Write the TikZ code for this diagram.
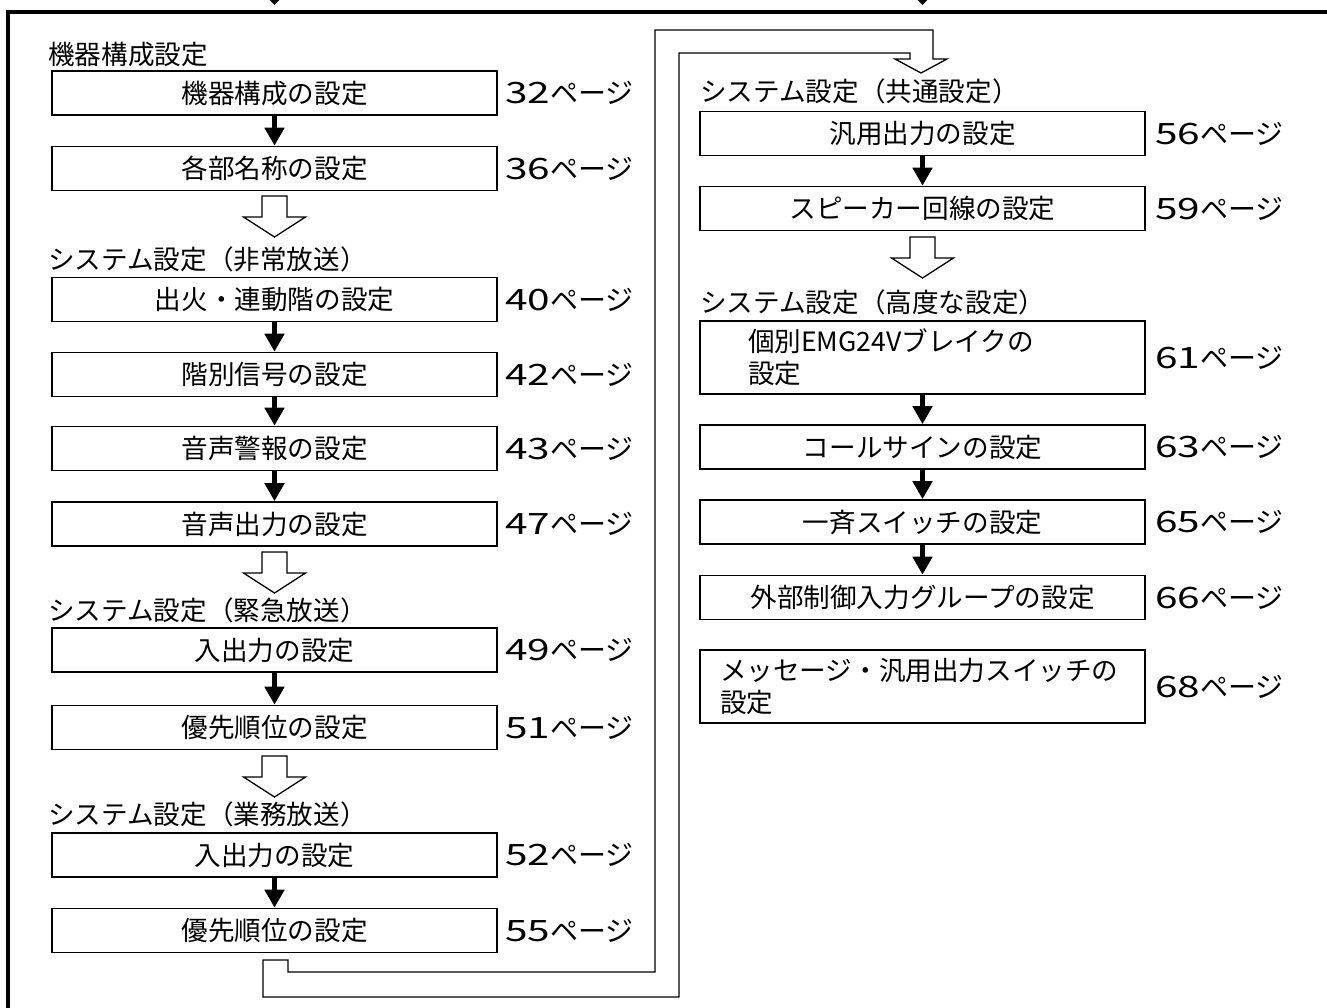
\documentclass[tikz,border=0pt]{standalone}
\usepackage{fontspec}
\setmainfont{Noto Sans CJK JP}
\usetikzlibrary{arrows.meta}
\newcommand\pgnum[1]{\scalebox{1.45}[1.05]{#1}}
\tikzset{
  hollowdown/.pic={\draw[line width=1.3pt, fill=white] (-12.5,0) -- (12.5,0) -- (12.5,21) -- (31,21) -- (0,41) -- (-31,21) -- (-12.5,21) -- cycle;},
}
\begin{document}
\begin{tikzpicture}[x=1pt,y=-1pt,
  every node/.style={font=\fontsize{26.6}{32}\selectfont, inner sep=0pt},
  box/.style={draw, line width=1.6pt, minimum width=445pt, minimum height=44pt, align=center},
  ttl/.style={anchor=west},
  pg/.style={anchor=west, font=\fontsize{28}{32}\selectfont},
  flow/.style={line width=5pt, -{Triangle[width=19pt,length=18pt]}},
  pipe/.style={line width=1.3pt, fill=white}
]
\useasboundingbox (0,0) rectangle (1327,1007);
\clip (0,0) rectangle (1327,1007);
% outer frame and incoming arrowheads
\draw[line width=4pt] (8,1020) -- (8,12) -- (1340,12);
\fill (262,-8) -- (287,-8) -- (274.5,5) -- cycle;
\fill (910,-8) -- (935,-8) -- (922.5,5) -- cycle;

% left column
\node[ttl] (l1) at (48,54) {機器構成設定};
\node[box] (b1) at (274.5,93) {機器構成の設定};
\node[box] (b2) at (274.5,168.5) {各部名称の設定};
\pic at (274.5,196) {hollowdown};
\node[ttl] (l2) at (48,259) {システム設定（非常放送）};
\node[box] (b3) at (274.5,299.5) {出火・連動階の設定};
\node[box] (b4) at (274.5,374.5) {階別信号の設定};
\node[box] (b5) at (274.5,448.5) {音声警報の設定};
\node[box] (b6) at (274.5,524) {音声出力の設定};
\pic at (274.5,552) {hollowdown};
\node[ttl] (l3) at (48,610) {システム設定（緊急放送）};
\node[box] (b7) at (274.5,650) {入出力の設定};
\node[box] (b8) at (274.5,727.5) {優先順位の設定};
\pic at (274.5,756) {hollowdown};
\node[ttl] (l4) at (48,814) {システム設定（業務放送）};
\node[box] (b9) at (274.5,855) {入出力の設定};
\node[box] (b10) at (274.5,930.5) {優先順位の設定};

\node[pg] (p1) at (505,93) {\pgnum{32}ページ};
\node[pg] (p2) at (505,168.5) {\pgnum{36}ページ};
\node[pg] (p3) at (505,299.5) {\pgnum{40}ページ};
\node[pg] (p4) at (505,374.5) {\pgnum{42}ページ};
\node[pg] (p5) at (505,448.5) {\pgnum{43}ページ};
\node[pg] (p6) at (505,524) {\pgnum{47}ページ};
\node[pg] (p7) at (505,650) {\pgnum{49}ページ};
\node[pg] (p8) at (505,727.5) {\pgnum{51}ページ};
\node[pg] (p9) at (505,855) {\pgnum{52}ページ};
\node[pg] (p10) at (505,930.5) {\pgnum{55}ページ};

\draw[flow] (b1) -- (b2);
\draw[flow] (b3) -- (b4);
\draw[flow] (b4) -- (b5);
\draw[flow] (b5) -- (b6);
\draw[flow] (b7) -- (b8);
\draw[flow] (b9) -- (b10);

% pipe arrow from left column to right column
\draw[pipe] (263,960) -- (263,997) -- (679,997) -- (679,53) -- (910,53) -- (910,59)
  -- (895,59) -- (921,73) -- (947,59) -- (933,59) -- (933,30) -- (655,30)
  -- (655,972) -- (288,972) -- (288,960) -- cycle;

% right column
\node[ttl] (l5) at (700,91) {システム設定（共通設定）};
\node[box] (r1) at (922.5,133.5) {汎用出力の設定};
\node[box] (r2) at (922.5,208.5) {スピーカー回線の設定};
\pic at (922.5,237) {hollowdown};
\node[ttl] (l6) at (700,302) {システム設定（高度な設定）};
\node[box, minimum height=73pt, inner xsep=48pt, text width=349pt, align=left] (r3) at (922.5,357.5) {個別EMG24Vブレイクの\\設定};
\node[box] (r4) at (922.5,447) {コールサインの設定};
\node[box] (r5) at (922.5,522) {一斉スイッチの設定};
\node[box] (r6) at (922.5,597.5) {外部制御入力グループの設定};
\node[box, minimum height=73pt, inner xsep=20pt, text width=405pt, align=left] (r7) at (922.5,686.5) {メッセージ・汎用出力スイッチの\\設定};

\node[pg] (q1) at (1155,133.5) {\pgnum{56}ページ};
\node[pg] (q2) at (1155,208.5) {\pgnum{59}ページ};
\node[pg] (q3) at (1155,357.5) {\pgnum{61}ページ};
\node[pg] (q4) at (1155,447) {\pgnum{63}ページ};
\node[pg] (q5) at (1155,522) {\pgnum{65}ページ};
\node[pg] (q6) at (1155,597.5) {\pgnum{66}ページ};
\node[pg] (q7) at (1155,686.5) {\pgnum{68}ページ};

\draw[flow] (r1) -- (r2);
\draw[flow] (r3) -- (r4);
\draw[flow] (r4) -- (r5);
\draw[flow] (r5) -- (r6);
\end{tikzpicture}
\end{document}
